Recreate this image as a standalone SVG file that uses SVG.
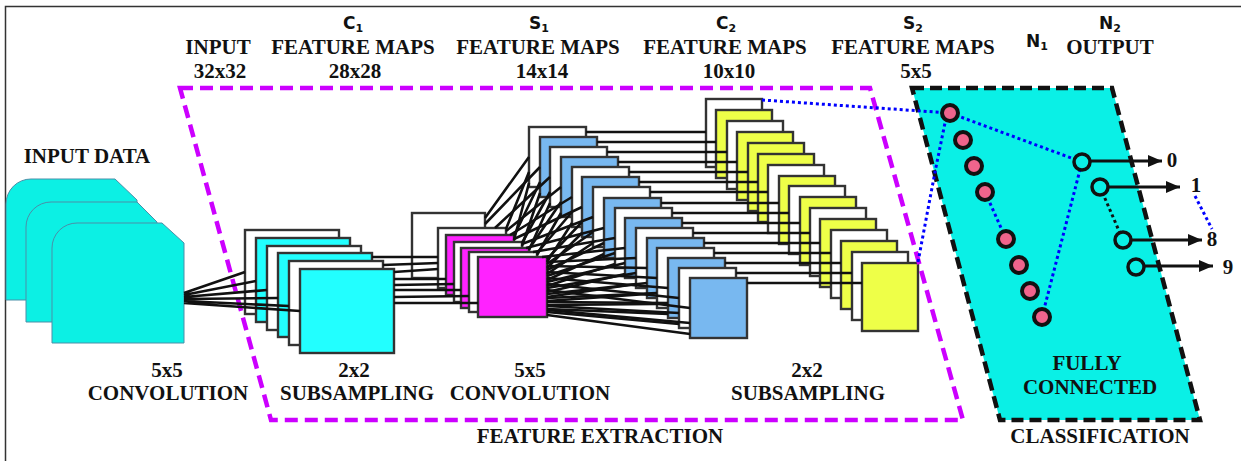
<svg xmlns="http://www.w3.org/2000/svg" width="1241" height="461" viewBox="0 0 1241 461">
<style>
.t{font-family:"Liberation Serif","Times New Roman",serif;font-weight:bold;font-size:21px;fill:#111;text-anchor:middle}
.s{font-family:"DejaVu Sans",sans-serif;font-weight:bold;font-size:17px;fill:#111;text-anchor:middle}
.sub{font-size:11px}
.map{stroke:#333;stroke-width:2.4}
.w{fill:#fff}.c{fill:#22ffff}.m{fill:#ff22ff}.b{fill:#78b8f0}.y{fill:#eeff48}
.ln{stroke:#111;stroke-width:2.6;fill:none}
.dot{stroke:#0000ff;stroke-width:3;stroke-dasharray:3 3;fill:none}
.dotk{stroke:#111;stroke-width:3;stroke-dasharray:3 3;fill:none}
.neu{fill:#f0648c;stroke:#111;stroke-width:4}
.out{fill:#0af0e6;stroke:#111;stroke-width:3.5}
.arr{stroke:#111;stroke-width:3.2;fill:none;marker-end:url(#ah)}
.inp{fill:#0cf0e4;stroke:#4a8fa8;stroke-width:1}
</style>
<defs>
<marker id="ah" markerUnits="userSpaceOnUse" viewBox="0 0 14 12" markerWidth="14" markerHeight="12" refX="14" refY="6" orient="auto">
<path d="M0,0 L14,6 L0,12 Z" fill="#111"/>
</marker>
</defs>
<rect width="1241" height="461" fill="#fff"/>
<path d="M5.5,461 V6.5 H1241" fill="none" stroke="#333" stroke-width="1.5"/>

<g id="classification">
<polygon points="912,88 1112,88 1200,420 1000,420" fill="#0af0e6" stroke="#111" stroke-width="4.5" stroke-dasharray="12 6"/>
</g>

<g id="input-data">
<path class="inp" d="M6,300 V204 A25,25 0 0 1 31,179 H115 L137,200 V300 Z"/>
<path class="inp" d="M26,322 V227 A25,25 0 0 1 51,202 H137 L157,222 V322 Z"/>
<path class="inp" d="M52,343 V248 A25,25 0 0 1 77,223 H162 L184,243 V343 Z"/>
</g>

<g id="c1-maps">
<rect class="map w" x="245" y="230" width="94" height="84"/>
<rect class="map c" x="256" y="238" width="94" height="84"/>
<rect class="map w" x="267" y="246" width="94" height="84"/>
<rect class="map c" x="278" y="253" width="94" height="84"/>
<rect class="map w" x="289" y="261" width="94" height="84"/>
<rect class="map c" x="300" y="269" width="94" height="84"/>
</g>

<g id="c2-maps">
<rect class="map w" x="529" y="127" width="57" height="60"/>
<rect class="map b" x="540" y="137" width="57" height="60"/>
<rect class="map w" x="550" y="147" width="57" height="60"/>
<rect class="map b" x="561" y="157" width="57" height="60"/>
<rect class="map w" x="572" y="167" width="57" height="60"/>
<rect class="map b" x="582" y="177" width="57" height="60"/>
<rect class="map w" x="593" y="187" width="57" height="60"/>
<rect class="map b" x="604" y="198" width="57" height="60"/>
<rect class="map w" x="615" y="208" width="57" height="60"/>
<rect class="map b" x="625" y="218" width="57" height="60"/>
<rect class="map w" x="636" y="228" width="57" height="60"/>
<rect class="map b" x="647" y="238" width="57" height="60"/>
<rect class="map w" x="657" y="248" width="57" height="60"/>
<rect class="map b" x="668" y="258" width="57" height="60"/>
<rect class="map w" x="679" y="268" width="57" height="60"/>
<rect class="map b" x="690" y="278" width="57" height="60"/>
</g>

<g id="s2-maps">
<rect class="map w" x="706" y="99" width="56" height="68"/>
<rect class="map y" x="716" y="110" width="56" height="68"/>
<rect class="map w" x="727" y="121" width="56" height="68"/>
<rect class="map y" x="737" y="132" width="56" height="68"/>
<rect class="map y" x="748" y="143" width="56" height="68"/>
<rect class="map y" x="758" y="154" width="56" height="68"/>
<rect class="map w" x="768" y="165" width="56" height="68"/>
<rect class="map y" x="779" y="176" width="56" height="68"/>
<rect class="map w" x="789" y="186" width="56" height="68"/>
<rect class="map y" x="800" y="197" width="56" height="68"/>
<rect class="map w" x="810" y="208" width="56" height="68"/>
<rect class="map y" x="820" y="219" width="56" height="68"/>
<rect class="map w" x="831" y="230" width="56" height="68"/>
<rect class="map y" x="841" y="241" width="56" height="68"/>
<rect class="map w" x="852" y="252" width="56" height="68"/>
<rect class="map y" x="862" y="263" width="56" height="68"/>
</g>

<g id="s1-maps">
<rect class="map w" x="412" y="213" width="73" height="65" stroke="#111"/>
<rect class="map w" x="438" y="228" width="68" height="60"/>
<rect class="map m" x="446" y="235" width="68" height="60"/>
<rect class="map w" x="454" y="242" width="68" height="60"/>
<rect class="map m" x="461" y="248" width="68" height="60"/>
<rect class="map w" x="469" y="252" width="68" height="60"/>
<rect class="map m" x="478" y="257" width="69" height="60"/>
</g>

<g id="feature-extraction">
<polygon points="180,88 870,88 963,420 271,420" fill="none" stroke="#cc00ff" stroke-width="4.5" stroke-dasharray="13 7"/>
</g>

<g id="connectors">
<path class="ln" d="M184 293L245 272M184 295L256 281M184 297L267 290M184 299L278 298M184 301L289 306M184 303L300 311"/>
<path class="ln" d="M372 257L438 257M383 265L438 263M394 272L438 269M394 279L446 279M394 285L454 284M394 290L461 290M394 297L469 296M394 303L478 303"/>
<path class="ln" d="M485 218L529 157M485 224L540 167M495 228L550 177M506 231L561 187M510 235L572 197M514 239L582 207M522 244L593 217M526 248L604 228M533 252L615 238M542 257L625 248M547 262L636 258M547 266L647 268M547 272L657 278M547 278L668 288M547 284L679 298M547 290L690 308"/>
<path class="ln" d="M506 229L529 172M514 236L540 182M522 243L550 192M529 249L561 202M537 253L572 212M547 259L582 222M547 264L593 232M547 270L604 243M547 276L615 253M547 282L625 263M547 288L636 273M547 294L647 283M547 298L657 293M547 302L668 303M547 306L679 313M547 310L690 323"/>
<path class="ln" d="M514 240L529 183M522 246L540 193M529 250L550 203M537 255L561 213M547 262L572 223M547 268L582 233M547 274L593 243M547 280L604 254M547 286L615 264M547 292L625 274M547 297L636 284M547 301L647 294M547 305L657 304M547 309L668 314M547 312L679 324M547 315L690 334"/>
<path class="ln" d="M586 132L706 132M597 142L716 142M607 152L727 152M618 162L737 162M629 172L748 172M639 182L758 182M650 192L768 192M661 203L779 203M672 213L789 213M682 223L800 223M693 233L810 233M704 243L820 243M714 253L831 253M725 263L841 263M736 273L852 273M747 283L862 283"/>
<path class="dot" d="M762 100L950 113"/>
<path class="dot" d="M918 262L935 172L946 118"/>
<path class="dot" d="M950 113L1082 162"/>
<path class="dot" d="M985 192L1006 239"/>
<path class="dot" d="M1042 317L1082 162"/>
<path class="dotk" d="M1100 187L1123 240"/>
<path class="dot" d="M1195 196L1212 229"/>
<path class="arr" d="M1090 161H1162"/>
<path class="arr" d="M1108 187H1180"/>
<path class="arr" d="M1131 240H1202"/>
<path class="arr" d="M1144 266H1213"/>
</g>

<g id="n1">
<circle class="neu" cx="950" cy="113" r="8"/>
<circle class="neu" cx="963" cy="140" r="8"/>
<circle class="neu" cx="974" cy="166" r="8"/>
<circle class="neu" cx="985" cy="192" r="8"/>
<circle class="neu" cx="1006" cy="239" r="8"/>
<circle class="neu" cx="1019" cy="265" r="8"/>
<circle class="neu" cx="1030" cy="291" r="8"/>
<circle class="neu" cx="1042" cy="317" r="8"/>
</g>

<g id="n2">
<circle class="out" cx="1082" cy="162" r="8"/>
<circle class="out" cx="1100" cy="187" r="8"/>
<circle class="out" cx="1123" cy="240" r="8"/>
<circle class="out" cx="1136" cy="267" r="8"/>
</g>

<g id="labels">
<text class="t" x="218" y="54">INPUT</text>
<text class="t" x="220" y="78">32x32</text>
<text class="s" x="353" y="29">C<tspan class="sub" dy="3">1</tspan></text>
<text class="t" x="353" y="54">FEATURE MAPS</text>
<text class="t" x="355" y="78">28x28</text>
<text class="s" x="539" y="29">S<tspan class="sub" dy="3">1</tspan></text>
<text class="t" x="538" y="54">FEATURE MAPS</text>
<text class="t" x="542" y="78">14x14</text>
<text class="s" x="726" y="29">C<tspan class="sub" dy="3">2</tspan></text>
<text class="t" x="725" y="54">FEATURE MAPS</text>
<text class="t" x="729" y="78">10x10</text>
<text class="s" x="913" y="29">S<tspan class="sub" dy="3">2</tspan></text>
<text class="t" x="913" y="54">FEATURE MAPS</text>
<text class="t" x="916" y="78">5x5</text>
<text class="s" x="1037" y="47">N<tspan class="sub" dy="3">1</tspan></text>
<text class="s" x="1110" y="29">N<tspan class="sub" dy="3">2</tspan></text>
<text class="t" x="1110" y="54">OUTPUT</text>
<text class="t" x="87" y="163">INPUT DATA</text>
<text class="t" x="167" y="377">5x5</text>
<text class="t" x="168" y="400">CONVOLUTION</text>
<text class="t" x="354" y="377">2x2</text>
<text class="t" x="357" y="400">SUBSAMPLING</text>
<text class="t" x="530" y="377">5x5</text>
<text class="t" x="530" y="400">CONVOLUTION</text>
<text class="t" x="807" y="377">2x2</text>
<text class="t" x="808" y="400">SUBSAMPLING</text>
<text class="t" x="600" y="443">FEATURE EXTRACTION</text>
<text class="t" x="1087" y="370">FULLY</text>
<text class="t" x="1090" y="394">CONNECTED</text>
<text class="t" x="1100" y="443">CLASSIFICATION</text>
<text class="t" x="1172" y="167">0</text>
<text class="t" x="1196" y="192">1</text>
<text class="t" x="1212" y="246">8</text>
<text class="t" x="1228" y="274">9</text>
</g>
</svg>
